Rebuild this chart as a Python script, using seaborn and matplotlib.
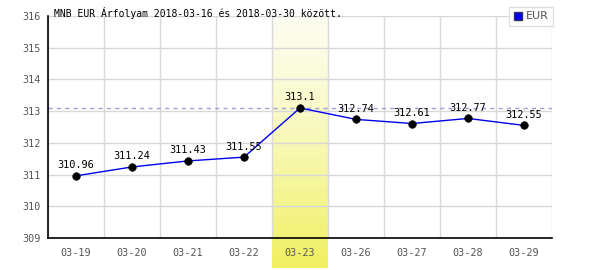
import numpy as np
import pandas as pd
import matplotlib
matplotlib.use("Agg")
import matplotlib.pyplot as plt
import seaborn as sns
from matplotlib.lines import Line2D

dates = ["03-19", "03-20", "03-21", "03-22", "03-23", "03-26", "03-27", "03-28", "03-29"]
rates = [310.96, 311.24, 311.43, 311.55, 313.1, 312.74, 312.61, 312.77, 312.55]
value_labels = ["310.96", "311.24", "311.43", "311.55", "313.1", "312.74", "312.61", "312.77", "312.55"]
yticks = [309, 310, 311, 312, 313, 314, 315, 316]
highlight = "03-23"
title = "MNB EUR Árfolyam 2018-03-16 és 2018-03-30 között."

sns.set_style("white")
plt.rcParams['font.family'] = ['DejaVu Sans Mono', 'DejaVu Sans']

df = pd.DataFrame({"idx": np.arange(len(dates)), "date": dates, "rate": rates})

fig = plt.figure(figsize=(6, 2.7), dpi=100)
ax = fig.add_axes([48/600, 1-238/270, (552-48)/600, (238-16)/270])

# highlight band with gradient
hi = dates.index(highlight)
grad = np.linspace(0, 1, 256) ** 1.3
top = np.array(matplotlib.colors.to_rgb("#fdfdf0"))
bot = np.array(matplotlib.colors.to_rgb("#f0f060"))
img = (top[None, :] + (bot - top)[None, :] * grad[:, None]).reshape(256, 1, 3)
ax.imshow(img, extent=[hi - 0.5, hi + 0.5, 308.05, 316], origin="upper",
          aspect="auto", zorder=0, clip_on=False)
ax.set_xlim(-0.5, len(dates) - 0.5)
ax.set_ylim(309, 316)

# grid
for y in yticks:
    ax.axhline(y, color="#d8d8d8", lw=1, zorder=1)
for i in range(len(dates) + 1):
    ax.axvline(i - 0.5, color="#d8d8d8", lw=1, zorder=1)

ax.axhline(max(rates), color="#a0a0d8", lw=1, ls=(0, (3, 3)), zorder=2)

sns.lineplot(data=df, x="idx", y="rate", ax=ax, color="#0000ee", lw=1, zorder=3, legend=False)
sns.scatterplot(data=df, x="idx", y="rate", ax=ax, color="black", s=30, edgecolor="black", zorder=4, legend=False)

for i, (v, lab) in enumerate(zip(rates, value_labels)):
    ax.annotate(lab, (i, v), xytext=(0, 4), textcoords="offset points",
                ha="center", va="bottom", fontsize=7.4, color="black", zorder=5)

ax.set_xticks(range(len(dates)))
ax.set_xticklabels(dates)
ax.set_yticks(yticks)
ax.tick_params(axis="both", length=0, labelsize=7.3, labelcolor="#555555")
ax.tick_params(axis="x", pad=7)
ax.tick_params(axis="y", pad=5)
ax.set_xlabel("")
ax.set_ylabel("")

for s in ["top", "right"]:
    ax.spines[s].set_visible(False)
for s in ["left", "bottom"]:
    ax.spines[s].set_color("black")
    ax.spines[s].set_linewidth(1.2)
    ax.spines[s].set_zorder(6)

fig.text(54/600, 1-13/270, title, fontsize=7.0, color="black", ha="left", va="center")

handle = Line2D([], [], marker="s", color="none", markerfacecolor="#0000ee",
                markeredgecolor="#333366", markersize=6)
leg = fig.legend([handle], ["EUR"], loc="upper right", bbox_to_anchor=(553/600, 1-7/270),
                 frameon=True, fancybox=False, borderpad=0.4,
                 handlelength=0.8, handletextpad=0.3, borderaxespad=0,
                 prop={"family": "DejaVu Sans", "size": 8})
leg.get_frame().set_edgecolor("#d8d8d8")
leg.get_frame().set_linewidth(1)
for t in leg.get_texts():
    t.set_color("#555555")

fig.savefig("out.png", dpi=100)
